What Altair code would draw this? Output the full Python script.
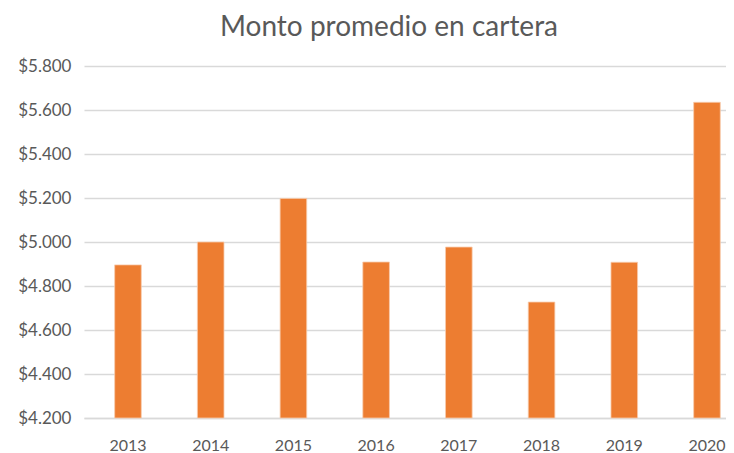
import altair as alt
import pandas as pd

years = ["2013", "2014", "2015", "2016", "2017", "2018", "2019", "2020"]
montos = [4896, 5000, 5198, 4909, 4977, 4727, 4908, 5635]
y_ticks = [4200, 4400, 4600, 4800, 5000, 5200, 5400, 5600, 5800]
y_base = 4200
titulo = ["Monto promedio en cartera"]

df = pd.DataFrame({"anio": years, "monto": montos})
df_title = pd.DataFrame({"t": titulo})

FONT = "Lato"
GREY = "#595959"

bars = (
    alt.Chart(df)
    .mark_bar(color="#ED7D31", stroke="#F8CBAD", strokeWidth=0.8)
    .encode(
        x=alt.X(
            "anio:N",
            sort=years,
            scale=alt.Scale(paddingInner=0.6784, paddingOuter=0.22, align=0.843),
            axis=alt.Axis(
                title=None,
                labelAngle=0,
                ticks=False,
                domainColor="#D9D9D9",
                domainWidth=1.5,
                labelFont=FONT,
                labelFontSize=16,
                labelColor=GREY,
                labelPadding=19,
            ),
        ),
        y=alt.Y(
            "monto:Q",
            scale=alt.Scale(domain=[4200, 5800], zero=False, nice=False),
            axis=alt.Axis(
                title=None,
                values=y_ticks,
                domain=False,
                ticks=False,
                gridColor="#D9D9D9",
                gridWidth=1.5,
                labelFont=FONT,
                labelFontSize=17,
                labelColor=GREY,
                labelPadding=13,
                labelExpr='"$" + replace(format(datum.value, ","), ",", ".")',
            ),
        ),
        y2=alt.datum(y_base),
    )
)

title = (
    alt.Chart(df_title)
    .mark_text(
        font=FONT,
        fontSize=28,
        color=GREY,
        align="center",
        baseline="alphabetic",
    )
    .encode(text="t:N", x=alt.value(305), y=alt.value(-30))
)

chart = (
    alt.layer(bars, title)
    .properties(
        width=642,
        height=352,
        autosize=alt.AutoSizeParams(type="none"),
        padding={"left": 76, "top": 58, "right": 0, "bottom": 35},
    )
    .configure_view(stroke=None)
)

chart.save("out.html", embed_options={"renderer": "svg", "actions": False})
